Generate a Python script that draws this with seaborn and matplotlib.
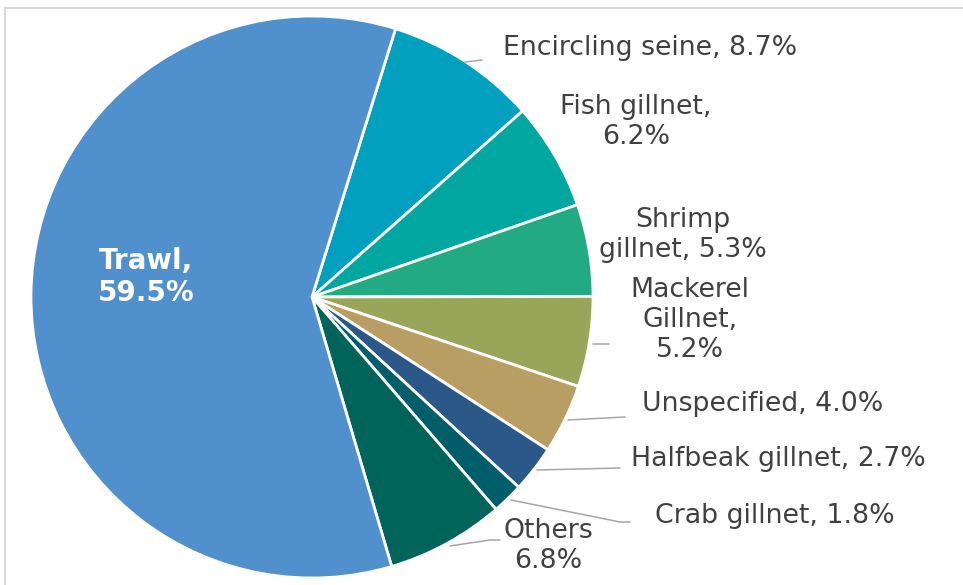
import matplotlib
matplotlib.use("Agg")
import matplotlib.pyplot as plt
import seaborn as sns
from matplotlib.patches import Rectangle

# ---------------------------------------------------------------------------
# Data: share of catch by gear type (percent)
# ---------------------------------------------------------------------------
categories = ["Encircling seine", "Fish gillnet", "Shrimp gillnet", "Mackerel Gillnet",
              "Unspecified", "Halfbeak gillnet", "Crab gillnet", "Others", "Trawl"]
shares = [8.7, 6.2, 5.3, 5.2, 4.0, 2.7, 1.8, 6.8, 59.5]
label_texts = ["Encircling seine, 8.7%", "Fish gillnet,\n6.2%", "Shrimp\ngillnet, 5.3%",
               "Mackerel\nGillnet,\n5.2%", "Unspecified, 4.0%", "Halfbeak gillnet, 2.7%",
               "Crab gillnet, 1.8%", "Others\n6.8%", "Trawl,\n59.5%"]
slice_colors = ["#00A0BE", "#00A6A0", "#22AB82", "#99A65A", "#B99E63",
                "#2A5888", "#005E6A", "#00645A", "#4F90CD"]

# ---------------------------------------------------------------------------
# Style
# ---------------------------------------------------------------------------
sns.set_theme(style="white")
plt.rcParams["font.family"] = ["DejaVu Sans"]

W, H = 963, 585
CX, CY, R = 312, 297, 281   # pie centre and radius in pixels


def px(x, y):
    """pixel (from top-left) -> data coords where the pie has radius 1"""
    return (x - CX) / R, (CY - y) / R


fig = plt.figure(figsize=(W / 100, H / 100), dpi=100)
ax = fig.add_axes([0, 0, 1, 1])

ax.pie(shares, colors=slice_colors, startangle=72.7, counterclock=False,
       radius=1, wedgeprops=dict(edgecolor="white", linewidth=2))

# pie() resets the limits, so set them afterwards
ax.set_xlim(-CX / R, (W - CX) / R)
ax.set_ylim(-(H - CY) / R, CY / R)
ax.set_aspect("equal")
ax.axis("off")

# chart frame (only top and left edges visible in the crop)
fig.patches.append(Rectangle((5 / W, -0.1), 1.2, (H - 8) / H + 0.1,
                             transform=fig.transFigure, fill=False,
                             edgecolor="#D9D9D9", linewidth=1.5))

# label positions (pixel centres) and leader lines
label_pos = [(650, 48), (636, 122), (683, 235), (690, 320), (763, 404),
             (778, 459), (775, 516), (548, 546), (146, 277)]
leaders = {
    0: [(465, 62), (482, 60)],
    3: [(593, 344), (609, 344)],
    4: [(568, 420), (625, 417)],
    5: [(537, 470), (620, 468)],
    6: [(511, 500), (620, 522), (630, 522)],
    7: [(450, 546), (490, 540), (500, 540)],
}

for i, txt in enumerate(label_texts):
    x, y = px(*label_pos[i])
    if categories[i] == "Trawl":
        ax.text(x, y, txt, ha="center", va="center", fontsize=20,
                fontweight="bold", color="white", linespacing=1.15)
    else:
        ax.text(x, y, txt, ha="center", va="center", fontsize=19.3,
                color="#404040", linespacing=1.18)

for pts in leaders.values():
    xs, ys = zip(*[px(a, b) for a, b in pts])
    ax.plot(xs, ys, color="#A6A6A6", linewidth=1.1)

plt.savefig("out.png", dpi=100)
